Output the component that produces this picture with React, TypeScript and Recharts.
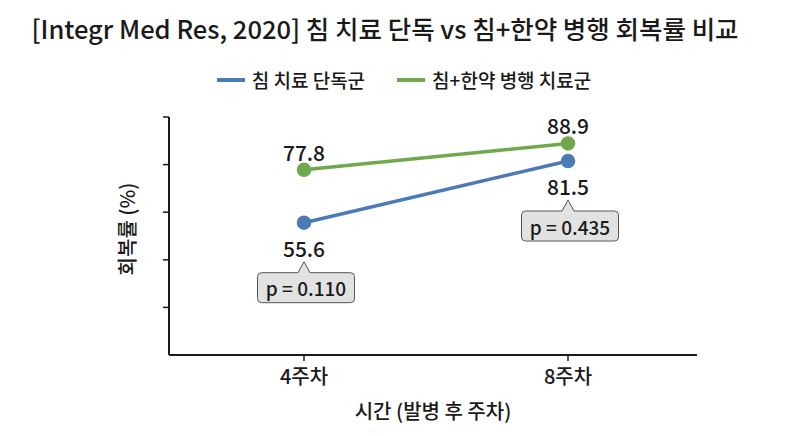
import { LineChart, Line, XAxis, YAxis, LabelList } from 'recharts'

const weeks = ['4주차', '8주차']
const acupunctureOnly = [55.6, 81.5]
const combined = [77.8, 88.9]
const pValues = ['p = 0.110', 'p = 0.435']
const yTicks = [20, 40, 60, 80, 100]
const legendNames = ['침 치료 단독군', '침+한약 병행 치료군']

const BLUE = '#4a7ab8'
const GREEN = '#70a84b'
const FONT = '"Noto Sans CJK KR", "Noto Sans", sans-serif'
const INK = '#1a1a1a'

const data = weeks.map((week, i) => ({
  week,
  single: acupunctureOnly[i],
  combo: combined[i],
}))

function calloutPath(cx: number, tipY: number, w: number, h: number) {
  const top = tipY + 11
  const l = cx - w / 2 + 2
  const r = cx + w / 2 + 2
  const b = top + h
  const rr = 4
  return [
    `M ${cx - 6} ${top}`,
    `L ${cx} ${tipY}`,
    `L ${cx + 6} ${top}`,
    `L ${r - rr} ${top}`,
    `Q ${r} ${top} ${r} ${top + rr}`,
    `L ${r} ${b - rr}`,
    `Q ${r} ${b} ${r - rr} ${b}`,
    `L ${l + rr} ${b}`,
    `Q ${l} ${b} ${l} ${b - rr}`,
    `L ${l} ${top + rr}`,
    `Q ${l} ${top} ${l + rr} ${top}`,
    'Z',
  ].join(' ')
}

// value under the blue point plus the p-value callout
function SingleLabel(props: any) {
  const { x, y, value, index } = props
  const cx = Number(x)
  const cy = Number(y)
  return (
    <g>
      <text x={cx} y={cy + 25} textAnchor="middle" dominantBaseline="central" fontSize={21} fontWeight={500} fill={INK} fontFamily={FONT}>
        {value}
      </text>
      <path d={calloutPath(cx, cy + 39, 97, 30)} fill="#e2e2e2" stroke="#555" strokeWidth={1} />
      <text x={cx + 2} y={cy + 65} textAnchor="middle" dominantBaseline="central" fontSize={19} fontWeight={500} fill={INK} fontFamily={FONT}>
        {pValues[index]}
      </text>
    </g>
  )
}

function ComboLabel(props: any) {
  const { x, y, value } = props
  return (
    <text x={Number(x)} y={Number(y) - 18} textAnchor="middle" dominantBaseline="central" fontSize={21} fontWeight={500} fill={INK} fontFamily={FONT}>
      {value}
    </text>
  )
}

function ChartLegend() {
  const colors = [BLUE, GREEN]
  return (
    <div
      style={{
        position: 'absolute',
        top: 65,
        left: 0,
        width: 808,
        display: 'flex',
        justifyContent: 'center',
        gap: 32,
        fontFamily: FONT,
        fontSize: 19,
        fontWeight: 500,
        color: INK,
        lineHeight: '30px',
      }}
    >
      {legendNames.map((name, i) => (
        <div key={name} style={{ display: 'flex', alignItems: 'center', gap: 7 }}>
          <svg width={28} height={6}>
            <line x1={0} y1={3} x2={28} y2={3} stroke={colors[i]} strokeWidth={4} />
          </svg>
          <span>{name}</span>
        </div>
      ))}
    </div>
  )
}

export default function App() {
  return (
    <div style={{ position: 'absolute', left: 0, top: 0, width: 800, height: 436, background: '#fff' }}>
      <div
        style={{
          position: 'absolute',
          left: 0,
          width: 770,
          top: 9,
          textAlign: 'center',
          fontFamily: FONT,
          fontSize: 25.5,
          fontWeight: 500,
          color: INK,
          lineHeight: '38px',
        }}
      >
        [Integr Med Res, 2020] 침 치료 단독 vs 침+한약 병행 회복률 비교
      </div>
      <ChartLegend />
      <LineChart width={800} height={436} data={data} margin={{ top: 117, right: 103, bottom: 21, left: 109 }}>
        <XAxis
          dataKey="week"
          padding={{ left: 135, right: 129 }}
          axisLine={{ stroke: INK, strokeWidth: 2 }}
          tickLine={{ stroke: INK, strokeWidth: 1.5 }}
          tickSize={6}
          tick={{ fill: INK, fontSize: 20, fontWeight: 500, fontFamily: FONT }}
          tickMargin={9}
          label={{ value: '시간 (발병 후 주차)', position: 'insideBottom', offset: -4, fill: INK, fontSize: 20, fontWeight: 500, fontFamily: FONT }}
          height={60}
        />
        <YAxis
          domain={[0, 100]}
          ticks={yTicks}
          width={60}
          axisLine={{ stroke: INK, strokeWidth: 2 }}
          tickLine={{ stroke: INK, strokeWidth: 1.5 }}
          tickSize={6}
          tickFormatter={() => ''}
          label={{
            content: () => (
              <text
                x={126}
                y={229}
                transform="rotate(-90 126 229)"
                textAnchor="middle"
                dominantBaseline="central"
                fontSize={20}
                fontWeight={500}
                fill={INK}
                fontFamily={FONT}
              >
                회복률 (%)
              </text>
            ),
          }}
        />
        <Line
          dataKey="single"
          stroke={BLUE}
          strokeWidth={3.5}
          dot={{ r: 5.5, fill: BLUE, stroke: BLUE }}
          activeDot={false}
          isAnimationActive={false}
        >
          <LabelList dataKey="single" content={<SingleLabel />} />
        </Line>
        <Line
          dataKey="combo"
          stroke={GREEN}
          strokeWidth={3.5}
          dot={{ r: 5.5, fill: GREEN, stroke: GREEN }}
          activeDot={false}
          isAnimationActive={false}
        >
          <LabelList dataKey="combo" content={<ComboLabel />} />
        </Line>
      </LineChart>
    </div>
  )
}
